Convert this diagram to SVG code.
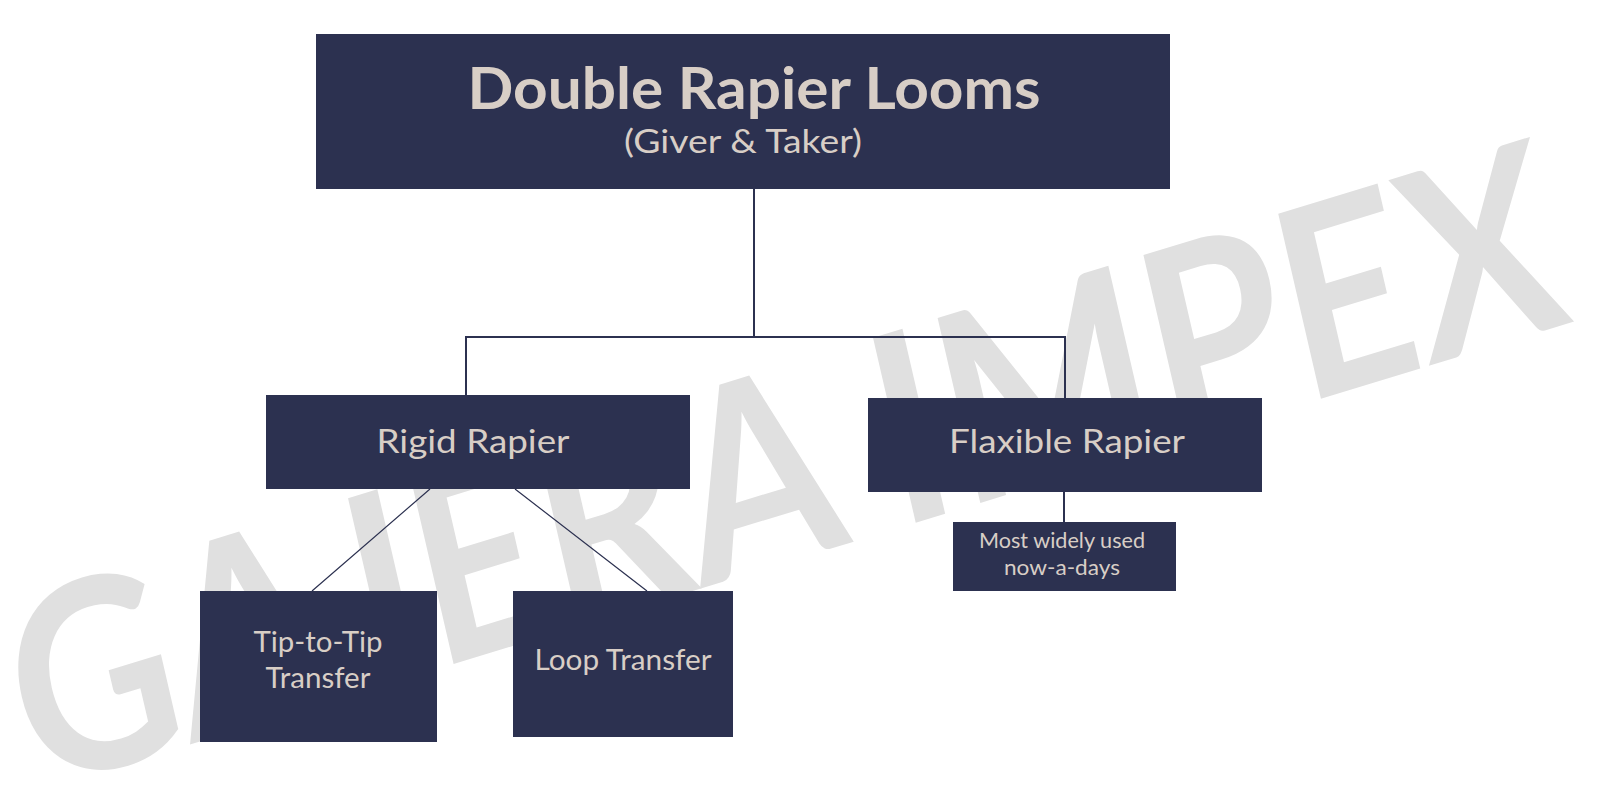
<svg xmlns="http://www.w3.org/2000/svg" width="1600" height="802" viewBox="0 0 1600 802">
  <style>
    .box { fill: #2c3150; }
    .lbl { fill: #d8cec6; font-family: Lato, "Open Sans", "Liberation Sans", sans-serif; text-anchor: middle; }
    .wire { stroke: #2c3150; fill: none; }
    .wm { fill: #e0e0e0; font-family: Lato, "Open Sans", "Liberation Sans", sans-serif; font-weight: 700; }
  </style>
  <rect width="1600" height="802" fill="#ffffff"/>

  <g id="watermark">
    <text class="wm" transform="translate(35,792) rotate(-17) skewX(-4)" x="0" y="0" font-size="262" textLength="1610" lengthAdjust="spacingAndGlyphs">GAJERA IMPEX</text>
  </g>

  <g id="connectors">
    <path class="wire" stroke-width="2" d="M754,189 V337 M466,337 H1065 M466,336 V395 M1065,336 V398 M1064,492 V522"/>
    <path class="wire" stroke-width="1.2" d="M430,489 L312,591 M515,489 L647,591"/>
  </g>

  <g id="root">
    <rect class="box" x="316" y="34" width="854" height="155"/>
    <text class="lbl" x="754" y="109" font-size="57" font-weight="700" textLength="573" lengthAdjust="spacingAndGlyphs">Double Rapier Looms</text>
    <text class="lbl" x="743" y="153" font-size="33" textLength="238" lengthAdjust="spacingAndGlyphs">(Giver &amp; Taker)</text>
  </g>

  <g id="rigid">
    <rect class="box" x="266" y="395" width="424" height="94"/>
    <text class="lbl" x="473" y="453" font-size="32" textLength="193" lengthAdjust="spacingAndGlyphs">Rigid Rapier</text>
  </g>

  <g id="flexible">
    <rect class="box" x="868" y="398" width="394" height="94"/>
    <text class="lbl" x="1067" y="453" font-size="32" textLength="236" lengthAdjust="spacingAndGlyphs">Flaxible Rapier</text>
  </g>

  <g id="widely">
    <rect class="box" x="953" y="522" width="223" height="69"/>
    <text class="lbl" x="1062" y="548" font-size="21" textLength="166" lengthAdjust="spacingAndGlyphs">Most widely used</text>
    <text class="lbl" x="1062" y="575" font-size="21" textLength="116" lengthAdjust="spacingAndGlyphs">now-a-days</text>
  </g>

  <g id="tip">
    <rect class="box" x="200" y="591" width="237" height="151"/>
    <text class="lbl" x="318" y="652" font-size="28" textLength="129" lengthAdjust="spacingAndGlyphs">Tip-to-Tip</text>
    <text class="lbl" x="318" y="688" font-size="28" textLength="105" lengthAdjust="spacingAndGlyphs">Transfer</text>
  </g>

  <g id="loop">
    <rect class="box" x="513" y="591" width="220" height="146"/>
    <text class="lbl" x="623" y="670" font-size="28" textLength="177" lengthAdjust="spacingAndGlyphs">Loop Transfer</text>
  </g>
</svg>
